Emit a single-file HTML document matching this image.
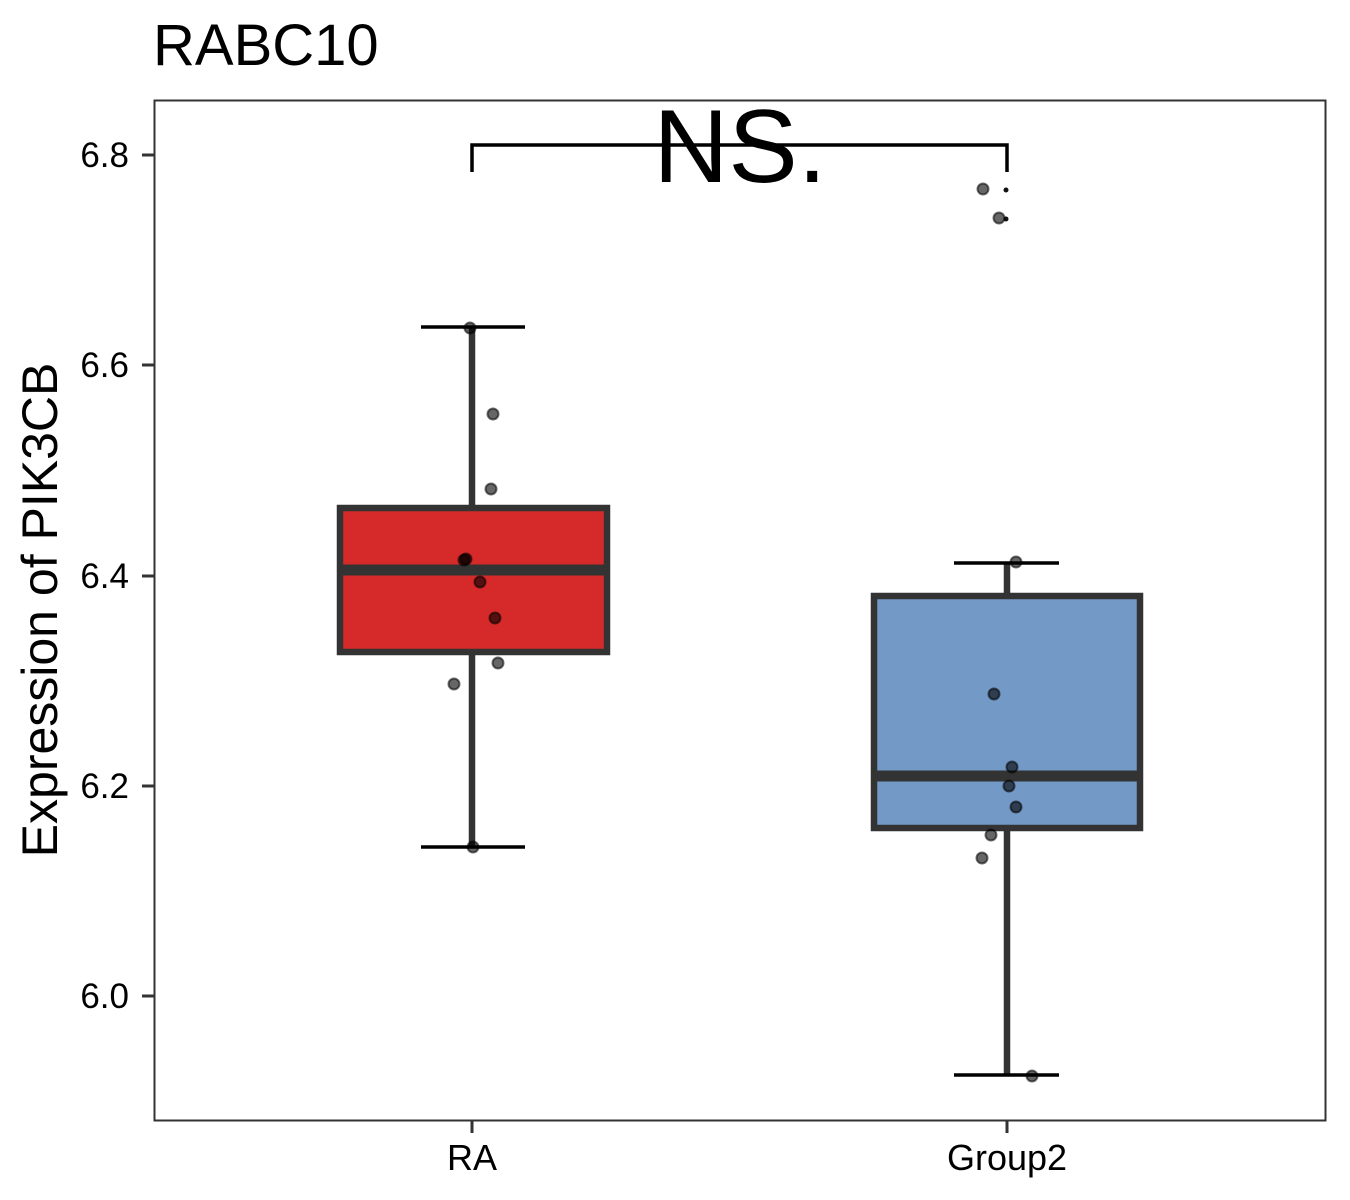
<!DOCTYPE html>
<html><head><style>body{margin:0;background:#fff}svg{display:block}text{font-family:"Liberation Sans",sans-serif}</style></head><body>
<svg width="1350" height="1200" xmlns="http://www.w3.org/2000/svg">
<rect width="1350" height="1200" fill="#fff"/>
<text x="153" y="65" style="font-size:58px">RABC10</text>
<rect x="154.5" y="100.5" width="1171" height="1020" fill="none" stroke="#333" stroke-width="2"/>
<g stroke="#333" stroke-width="3">
<line x1="142" y1="155" x2="154" y2="155"/><line x1="142" y1="365" x2="154" y2="365"/><line x1="142" y1="576" x2="154" y2="576"/><line x1="142" y1="786" x2="154" y2="786"/><line x1="142" y1="996" x2="154" y2="996"/>
<line x1="472" y1="1121" x2="472" y2="1133"/><line x1="1007" y1="1121" x2="1007" y2="1133"/>
</g>
<g style="font-size:35px" text-anchor="end" fill="#000">
<text x="129" y="167">6.8</text><text x="129" y="377">6.6</text><text x="129" y="588">6.4</text><text x="129" y="798">6.2</text><text x="129" y="1008">6.0</text>
</g>
<g style="font-size:36px" text-anchor="middle"><text x="472" y="1170">RA</text><text x="1007" y="1170">Group2</text></g>
<text transform="translate(57,610) rotate(-90)" style="font-size:50px" text-anchor="middle">Expression of PIK3CB</text>
<g stroke="#333" stroke-width="6.5">
<line x1="472" y1="327" x2="472" y2="508"/><line x1="472" y1="652" x2="472" y2="847"/>
<rect x="340" y="508" width="267" height="144" fill="#d62a2a"/>
<line x1="340" y1="570" x2="607" y2="570" stroke-width="11"/>
<line x1="1007" y1="563" x2="1007" y2="596"/><line x1="1007" y1="828" x2="1007" y2="1075"/>
<rect x="874" y="596" width="266" height="232" fill="#7399c6"/>
<line x1="874" y1="776" x2="1140" y2="776" stroke-width="11"/>
</g>
<g stroke="#000" stroke-width="3.5">
<line x1="421" y1="327" x2="525" y2="327"/><line x1="421" y1="847" x2="525" y2="847"/>
<line x1="954" y1="563" x2="1059" y2="563"/><line x1="954" y1="1075" x2="1059" y2="1075"/>
<polyline points="472,172 472,145 1007,145 1007,172" fill="none"/>
</g>
<circle cx="1006" cy="190" r="2.5" fill="#111"/><circle cx="1006" cy="219" r="2.5" fill="#111"/>
<text x="740" y="182" style="font-size:104px" text-anchor="middle">NS.</text>
<g fill="rgba(0,0,0,0.6)" stroke="rgba(0,0,0,0.55)" stroke-width="2">
<circle cx="470" cy="328" r="5.5"/><circle cx="493" cy="414" r="5.5"/><circle cx="491" cy="489" r="5.5"/><circle cx="466" cy="559" r="5.5"/><circle cx="464" cy="560" r="5.5"/><circle cx="480" cy="582" r="5.5"/><circle cx="495" cy="618" r="5.5"/><circle cx="498" cy="663" r="5.5"/><circle cx="454" cy="684" r="5.5"/><circle cx="473" cy="847" r="5.5"/>
<circle cx="1016" cy="562" r="5.5"/><circle cx="994" cy="694" r="5.5"/><circle cx="1012" cy="767" r="5.5"/><circle cx="1009" cy="786" r="5.5"/><circle cx="1016" cy="807" r="5.5"/><circle cx="991" cy="835" r="5.5"/><circle cx="982" cy="858" r="5.5"/><circle cx="1032" cy="1076" r="5.5"/><circle cx="983" cy="189" r="5.5"/><circle cx="999" cy="218" r="5.5"/>
</g>
</svg>
</body></html>
